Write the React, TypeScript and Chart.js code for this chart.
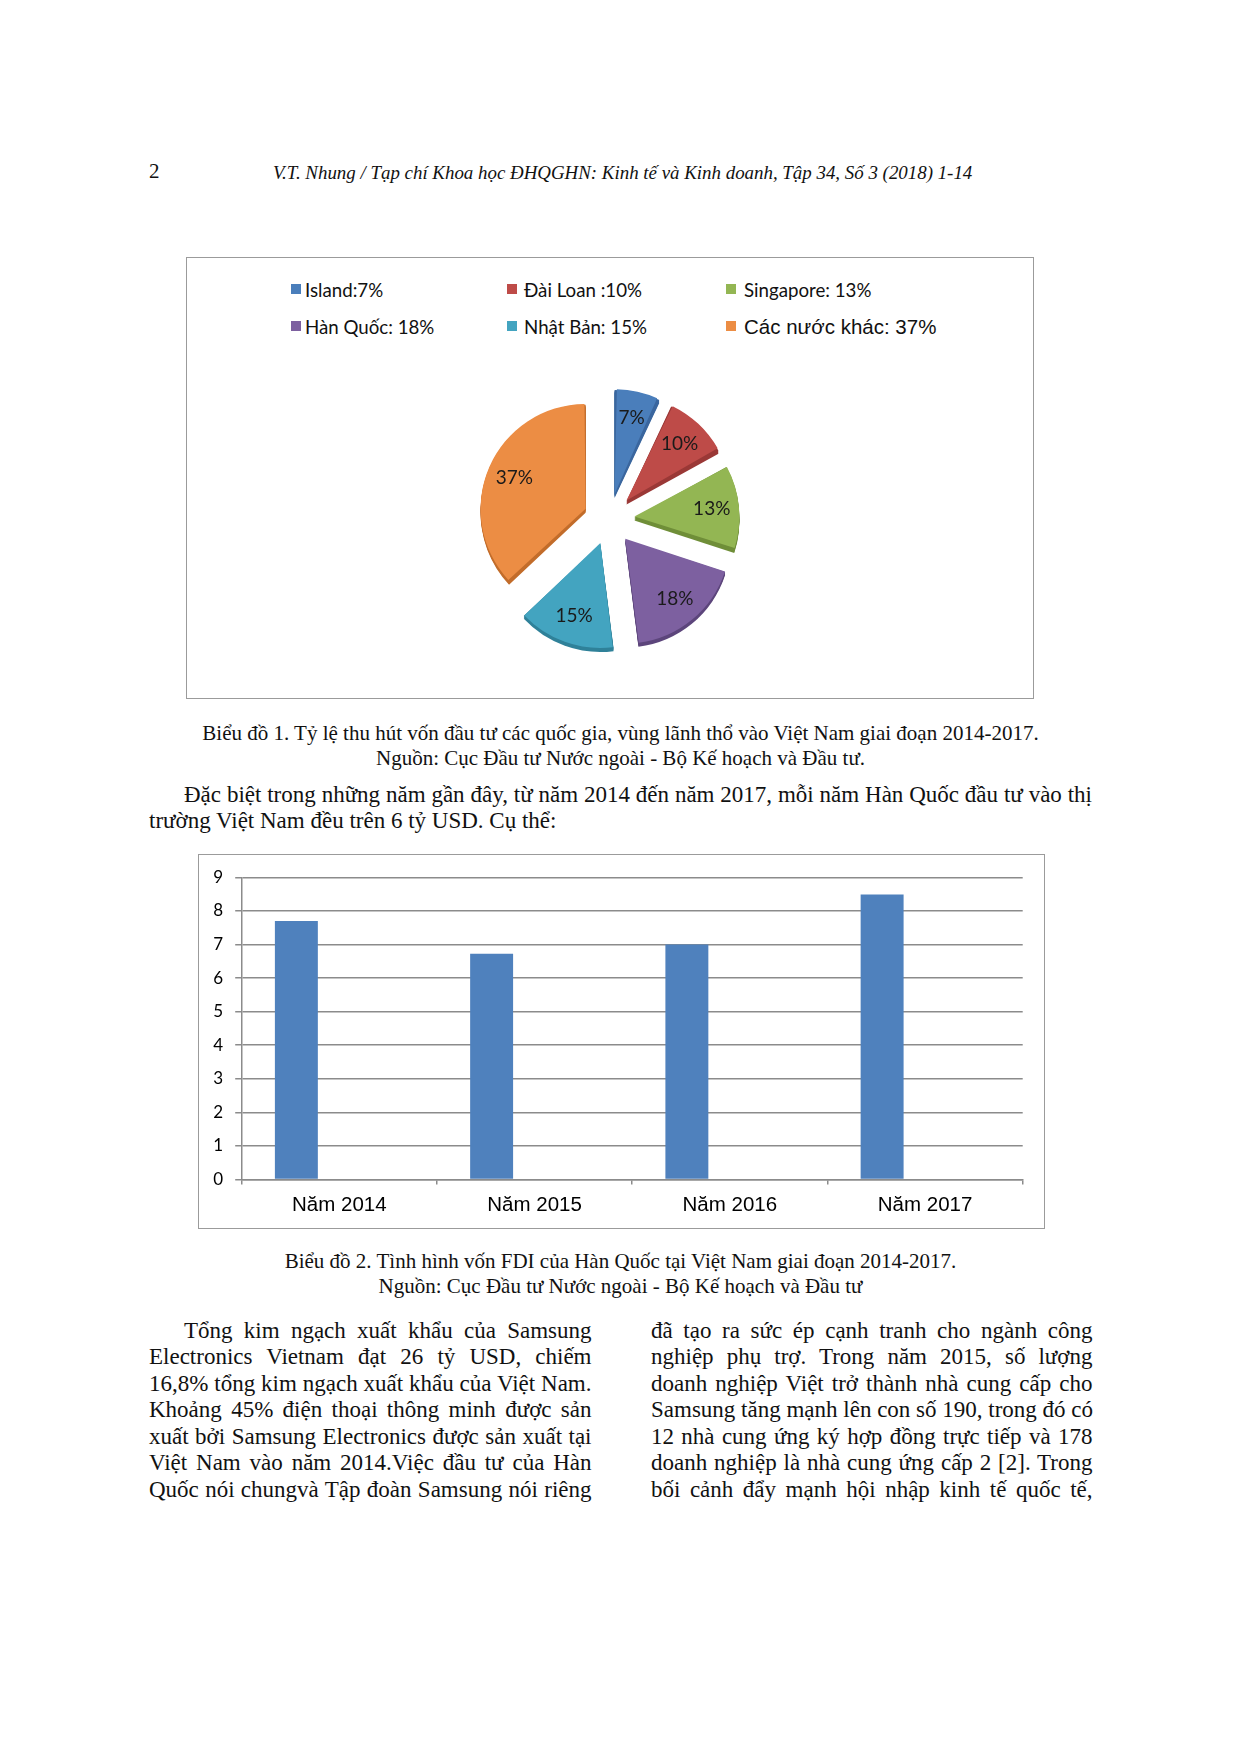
import React, { useEffect, useRef } from "react";
import { Chart, registerables } from "chart.js";

Chart.register(...registerables);

// ---------- Biểu đồ 1 (pie) data ----------
const pieCategories = ["Island", "Đài Loan", "Singapore", "Hàn Quốc", "Nhật Bản", "Các nước khác"];
const pieValues = [7, 10, 13, 18, 15, 37];
const pieLegendTexts = ["Island:7%", "Đài Loan :10%", "Singapore: 13%", "Hàn Quốc: 18%", "Nhật Bản: 15%", "Các nước khác: 37%"];
const pieSliceLabels = ["7%", "10%", "13%", "18%", "15%", "37%"];

// ---------- Biểu đồ 2 (bar) data ----------
const barCategories = ["Năm 2014", "Năm 2015", "Năm 2016", "Năm 2017"];
const barValues = [7.7, 6.72, 7.0, 8.49];
const barSecondSeries: (number | null)[] = [null, null, null, null];
const yAxisMax = 9;
const yAxisStep = 1;

// ---------- Page text ----------
const headerPageNumber = "2";
const headerTitle = "V.T. Nhung / Tạp chí Khoa học ĐHQGHN: Kinh tế và Kinh doanh, Tập 34, Số 3 (2018) 1-14";
const caption1 = [
  "Biểu đồ 1. Tỷ lệ thu hút vốn đầu tư các quốc gia, vùng lãnh thổ vào Việt Nam giai đoạn 2014-2017.",
  "Nguồn: Cục Đầu tư Nước ngoài - Bộ Kế hoạch và Đầu tư.",
];
const paragraph1 = [
  "Đặc biệt trong những năm gần đây, từ năm 2014 đến năm 2017, mỗi năm Hàn Quốc đầu tư vào thị",
  "trường Việt Nam đều trên 6 tỷ USD. Cụ thể:",
];
const caption2 = [
  "Biểu đồ 2. Tình hình vốn FDI của Hàn Quốc tại Việt Nam giai đoạn 2014-2017.",
  "Nguồn: Cục Đầu tư Nước ngoài - Bộ Kế hoạch và Đầu tư",
];
const leftColumn = [
  "Tổng kim ngạch xuất khẩu của Samsung",
  "Electronics Vietnam đạt 26 tỷ USD, chiếm",
  "16,8% tổng kim ngạch xuất khẩu của Việt Nam.",
  "Khoảng 45% điện thoại thông minh được sản",
  "xuất bởi Samsung Electronics được sản xuất tại",
  "Việt Nam vào năm 2014.Việc đầu tư của Hàn",
  "Quốc nói chungvà Tập đoàn Samsung nói riêng",
];
const rightColumn = [
  "đã tạo ra sức ép cạnh tranh cho ngành công",
  "nghiệp phụ trợ. Trong năm 2015, số lượng",
  "doanh nghiệp Việt trở thành nhà cung cấp cho",
  "Samsung tăng mạnh lên con số 190, trong đó có",
  "12 nhà cung ứng ký hợp đồng trực tiếp và 178",
  "doanh nghiệp là nhà cung ứng cấp 2 [2]. Trong",
  "bối cảnh đẩy mạnh hội nhập kinh tế quốc tế,",
];

// ---------- Styles ----------
const SERIF = '"Liberation Serif", "Times New Roman", serif';
const CAL = 'Lato, "Open Sans", sans-serif';
const ARIAL = '"Liberation Sans", Arial, sans-serif';
const PIE_COLORS = ["#4A7EBB", "#BE4B48", "#93B653", "#7D60A0", "#43A4C0", "#EC8D44"];
const PIE_SIDE = ["#3A669E", "#9A3836", "#6F8E38", "#5C457B", "#2F8199", "#C26C2A"];
const PIE_RADIUS = 105;
const PIE_EXPLODE = 25.5; // visual explosion distance in px
const GRID = "#8b8b8b";
const BAR_BLUE = "#4F81BD";

// Chart.js arcs translate by offset/4 and enlarge radius by (offset/4)*(1-sin(circ));
// compensate the enlargement so every slice keeps the same visual radius.
const pie3dPlugin = {
  id: "pie3d",
  afterDatasetsUpdate(chart: any) {
    const meta = chart.getDatasetMeta(0);
    meta.data.forEach((el: any) => {
      const circ = el.circumference;
      const fix = 1 - Math.sin(Math.min(Math.PI, circ || 0));
      el.outerRadius = PIE_RADIUS - PIE_EXPLODE * fix;
    });
  },
  beforeDatasetsDraw(chart: any) {
    const ctx = chart.ctx;
    const meta = chart.getDatasetMeta(0);
    meta.data.forEach((el: any, i: number) => {
      const { x, y, startAngle, endAngle } = el;
      const mid = (startAngle + endAngle) / 2;
      const cx = x + Math.cos(mid) * PIE_EXPLODE;
      const cy = y + Math.sin(mid) * PIE_EXPLODE;
      ctx.save();
      ctx.fillStyle = PIE_SIDE[i];
      for (let d = 1; d <= 4; d++) {
        ctx.beginPath();
        ctx.moveTo(cx, cy + d);
        ctx.arc(cx, cy + d, PIE_RADIUS, startAngle, endAngle);
        ctx.closePath();
        ctx.fill();
      }
      ctx.restore();
    });
  },
  afterDatasetsDraw(chart: any) {
    const ctx = chart.ctx;
    const meta = chart.getDatasetMeta(0);
    meta.data.forEach((el: any, i: number) => {
      const { x, y, startAngle, endAngle } = el;
      const mid = (startAngle + endAngle) / 2;
      const r = PIE_EXPLODE + PIE_RADIUS * 0.74;
      ctx.save();
      ctx.fillStyle = "#1a1a1a";
      ctx.font = `19px ${CAL}`;
      ctx.textAlign = "center";
      ctx.textBaseline = "middle";
      ctx.fillText(pieSliceLabels[i], x + Math.cos(mid) * r, y + Math.sin(mid) * r);
      ctx.restore();
    });
  },
};

function TextLine(props: {
  text: string;
  left: number;
  width?: number;
  baseline: number;
  size: number;
  align?: "left" | "center" | "justify";
  italic?: boolean;
}) {
  const { text, left, width, baseline, size, align = "left", italic = false } = props;
  const lh = Math.round(size * 1.2);
  const top = baseline - ((lh - 1.107 * size) / 2 + 0.891 * size);
  const style: React.CSSProperties = {
    position: "absolute",
    left,
    top,
    width,
    height: lh,
    lineHeight: `${lh}px`,
    fontSize: size,
    fontFamily: SERIF,
    fontStyle: italic ? "italic" : "normal",
    whiteSpace: "nowrap",
    color: "#111",
    textAlign: align,
    textAlignLast: align === "justify" ? "justify" : undefined,
  } as React.CSSProperties;
  return <div style={style}>{text}</div>;
}

export default function App() {
  const pieRef = useRef<HTMLCanvasElement | null>(null);
  const barRef = useRef<HTMLCanvasElement | null>(null);

  useEffect(() => {
    const pie = new Chart(pieRef.current as HTMLCanvasElement, {
      type: "pie",
      data: {
        labels: pieCategories,
        datasets: [
          {
            data: pieValues,
            backgroundColor: PIE_COLORS,
            borderWidth: 0,
            offset: PIE_EXPLODE * 4,
          } as any,
        ],
      },
      options: {
        animation: false,
        responsive: false,
        radius: PIE_RADIUS,
        plugins: { legend: { display: false }, tooltip: { enabled: false } },
      } as any,
      plugins: [pie3dPlugin],
    });

    const bar = new Chart(barRef.current as HTMLCanvasElement, {
      type: "bar",
      data: {
        labels: barCategories,
        datasets: [
          { data: barValues, backgroundColor: BAR_BLUE, borderWidth: 0, categoryPercentage: 0.88, barPercentage: 0.5 },
          { data: barSecondSeries as any, backgroundColor: "#C0504D", borderWidth: 0, categoryPercentage: 0.88, barPercentage: 0.5 },
        ],
      },
      options: {
        animation: false,
        responsive: false,
        layout: { padding: { left: 3.7, right: 21.3, top: 22.3, bottom: 0 } },
        plugins: { legend: { display: false }, tooltip: { enabled: false } },
        scales: {
          x: {
            offset: true,
            grid: { display: true, drawOnChartArea: false, drawTicks: true, tickLength: 5, color: GRID, lineWidth: 1.5, offset: true },
            border: { display: true, color: GRID, width: 1.5 },
            ticks: { color: "#000", font: { family: ARIAL, size: 20.5 }, padding: 8.7, maxRotation: 0, autoSkip: false },
            afterFit: (s: any) => {
              s.height = 47.5;
            },
          },
          y: {
            min: 0,
            max: yAxisMax,
            ticks: { stepSize: yAxisStep, color: "#000", font: { family: CAL, size: 17 }, padding: 12 },
            grid: { color: GRID, lineWidth: 1.5, tickLength: 6.5, drawTicks: true },
            border: { display: true, color: GRID, width: 1.5 },
            afterFit: (s: any) => {
              s.width = 40;
            },
          },
        },
      } as any,
    });

    return () => {
      pie.destroy();
      bar.destroy();
    };
  }, []);

  const legendSquareX = [291, 507, 726];
  const legendTextX = [305, 524, 744];
  const legendRowY = [289.7, 327.3];

  return (
    <div style={{ position: "absolute", left: 0, top: 0, width: 1240, height: 1754, background: "#fff" }}>
      {/* header */}
      <TextLine text={headerPageNumber} left={149} baseline={178.5} size={21} />
      <TextLine text={headerTitle} left={273} baseline={178.5} size={18.9} italic />

      {/* pie chart box */}
      <div
        style={{
          position: "absolute",
          left: 186,
          top: 257,
          width: 848,
          height: 442,
          border: "1.5px solid #9b9b9b",
          boxSizing: "border-box",
        }}
      />
      {pieLegendTexts.map((t, i) => {
        const col = i % 3;
        const row = Math.floor(i / 3);
        const isArial = i === 5;
        return (
          <React.Fragment key={t}>
            <div
              style={{
                position: "absolute",
                left: legendSquareX[col],
                top: legendRowY[row] - 6,
                width: 10,
                height: 10,
                background: PIE_COLORS[i],
              }}
            />
            <div
              style={{
                position: "absolute",
                left: legendTextX[col],
                top: legendRowY[row] - 13,
                height: 26,
                lineHeight: "26px",
                whiteSpace: "nowrap",
                fontFamily: isArial ? ARIAL : CAL,
                fontSize: isArial ? 20.5 : 18.7,
                color: "#111",
              }}
            >
              {t}
            </div>
          </React.Fragment>
        );
      })}
      <canvas
        ref={pieRef}
        width={300}
        height={300}
        style={{ position: "absolute", left: 458.5, top: 369, width: 300, height: 300 }}
      />

      {/* caption 1 */}
      <TextLine text={caption1[0]} left={149} width={943} baseline={740.5} size={21} align="center" />
      <TextLine text={caption1[1]} left={149} width={943} baseline={765.5} size={21} align="center" />

      {/* paragraph */}
      <TextLine text={paragraph1[0]} left={184} width={908} baseline={802.8} size={23} align="justify" />
      <TextLine text={paragraph1[1]} left={149} baseline={829.2} size={23} />

      {/* bar chart box */}
      <div
        style={{
          position: "absolute",
          left: 197.5,
          top: 854,
          width: 847.5,
          height: 374.5,
          border: "1.5px solid #9b9b9b",
          boxSizing: "border-box",
        }}
      />
      <canvas
        ref={barRef}
        width={846}
        height={372}
        style={{ position: "absolute", left: 198, top: 855, width: 846, height: 372 }}
      />

      {/* caption 2 */}
      <TextLine text={caption2[0]} left={149} width={943} baseline={1268.5} size={21} align="center" />
      <TextLine text={caption2[1]} left={149} width={943} baseline={1294} size={21} align="center" />

      {/* two columns */}
      {leftColumn.map((t, i) => (
        <TextLine
          key={"l" + i}
          text={t}
          left={i === 0 ? 184 : 149}
          width={i === 0 ? 407.5 : 442.5}
          baseline={1338.6 + i * 26.5}
          size={23}
          align="justify"
        />
      ))}
      {rightColumn.map((t, i) => (
        <TextLine
          key={"r" + i}
          text={t}
          left={651}
          width={441.5}
          baseline={1338.6 + i * 26.5}
          size={23}
          align="justify"
        />
      ))}
    </div>
  );
}
